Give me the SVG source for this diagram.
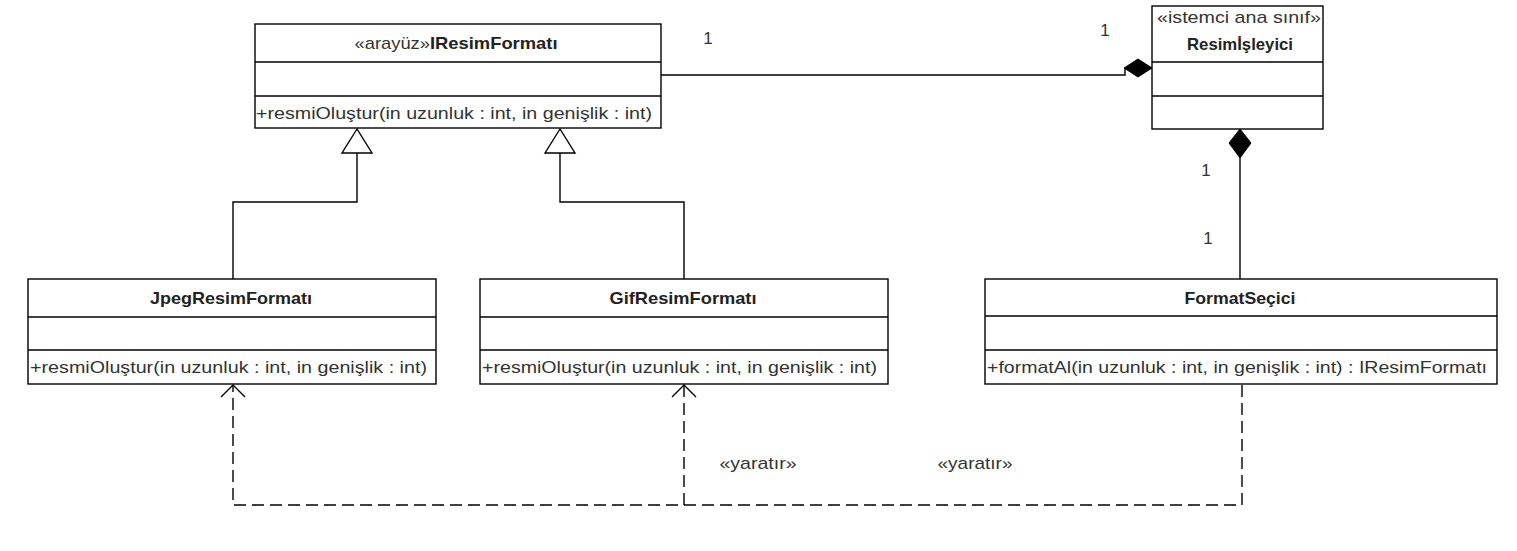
<svg xmlns="http://www.w3.org/2000/svg" width="1517" height="551" viewBox="0 0 1517 551">
<style>
  .box { fill: #ffffff; stroke: #000000; stroke-width: 1.4; }
  .sep { stroke: #000000; stroke-width: 1.4; }
  .t { font-family: "Liberation Sans", Arial, sans-serif; font-size: 17px; fill: #333333; }
  .b { font-weight: bold; fill: #222222; }
  .ln { fill: none; stroke: #000000; stroke-width: 1.4; }
  .dash { fill: none; stroke: #000000; stroke-width: 1.4; stroke-dasharray: 12 6; }
  .tri { fill: #ffffff; stroke: #000000; stroke-width: 1.4; }
  .dia { fill: #000000; stroke: #000000; stroke-width: 1; }
</style>
<rect x="0" y="0" width="1517" height="551" fill="#ffffff"/>

<g id="connectors">
  <!-- generalization Jpeg -> IResimFormati -->
  <polyline class="ln" points="233,279 233,202 357,202 357,153"/>
  <polygon class="tri" points="357,129 342,153 372,153"/>
  <!-- generalization Gif -> IResimFormati -->
  <polyline class="ln" points="684,279 684,202 560,202 560,153"/>
  <polygon class="tri" points="560,129 545,153 575,153"/>
  <!-- composition IResimFormati - ResimIsleyici -->
  <polyline class="ln" points="661,75 1125,75 1125,68"/>
  <polygon class="dia" points="1124,68 1138,59 1152,68 1138,77"/>
  <!-- composition ResimIsleyici - FormatSecici -->
  <line class="ln" x1="1240" y1="158" x2="1240" y2="279"/>
  <polygon class="dia" points="1240,129 1251,143 1240,158 1229,143"/>
  <!-- dependencies (yaratir) -->
  <path class="dash" d="M1242,385 V505 H233 V386"/>
  <path class="dash" d="M684,505 V386"/>
  <polyline class="ln" points="221,397 233,385 245,397"/>
  <polyline class="ln" points="672,397 684,385 696,397"/>
  <!-- labels -->
  <text class="t" x="708" y="44" text-anchor="middle">1</text>
  <text class="t" x="1105" y="36" text-anchor="middle">1</text>
  <text class="t" x="1206" y="176" text-anchor="middle">1</text>
  <text class="t" x="1208" y="244" text-anchor="middle">1</text>
  <text class="t" x="758" y="469" text-anchor="middle" textLength="77" lengthAdjust="spacingAndGlyphs">«yaratır»</text>
  <text class="t" x="975" y="469" text-anchor="middle" textLength="75" lengthAdjust="spacingAndGlyphs">«yaratır»</text>
</g>

<g id="IResimFormati">
  <rect class="box" x="255" y="24" width="406" height="104"/>
  <line class="sep" x1="255" y1="62" x2="661" y2="62"/>
  <line class="sep" x1="255" y1="96" x2="661" y2="96"/>
  <text class="t" x="456" y="49" text-anchor="middle" textLength="203" lengthAdjust="spacingAndGlyphs">«arayüz»<tspan class="b">IResimFormatı</tspan></text>
  <text class="t" x="256" y="119" textLength="396" lengthAdjust="spacingAndGlyphs">+resmiOluştur(in uzunluk : int, in genişlik : int)</text>
</g>

<g id="ResimIsleyici">
  <rect class="box" x="1152" y="6" width="171" height="123"/>
  <line class="sep" x1="1152" y1="62" x2="1323" y2="62"/>
  <line class="sep" x1="1152" y1="96" x2="1323" y2="96"/>
  <text class="t" x="1239" y="23" text-anchor="middle" textLength="164" lengthAdjust="spacingAndGlyphs">«istemci ana sınıf»</text>
  <text class="t b" x="1240" y="50" text-anchor="middle" textLength="106" lengthAdjust="spacingAndGlyphs">Resimİşleyici</text>
</g>

<g id="JpegResimFormati">
  <rect class="box" x="28" y="279" width="408" height="105"/>
  <line class="sep" x1="28" y1="317" x2="436" y2="317"/>
  <line class="sep" x1="28" y1="350" x2="436" y2="350"/>
  <text class="t b" x="231" y="304" text-anchor="middle" textLength="162" lengthAdjust="spacingAndGlyphs">JpegResimFormatı</text>
  <text class="t" x="30" y="373" textLength="397" lengthAdjust="spacingAndGlyphs">+resmiOluştur(in uzunluk : int, in genişlik : int)</text>
</g>

<g id="GifResimFormati">
  <rect class="box" x="480" y="279" width="408" height="105"/>
  <line class="sep" x1="480" y1="317" x2="888" y2="317"/>
  <line class="sep" x1="480" y1="350" x2="888" y2="350"/>
  <text class="t b" x="683" y="304" text-anchor="middle" textLength="147" lengthAdjust="spacingAndGlyphs">GifResimFormatı</text>
  <text class="t" x="482" y="373" textLength="395" lengthAdjust="spacingAndGlyphs">+resmiOluştur(in uzunluk : int, in genişlik : int)</text>
</g>

<g id="FormatSecici">
  <rect class="box" x="985" y="279" width="512" height="105"/>
  <line class="sep" x1="985" y1="316" x2="1497" y2="316"/>
  <line class="sep" x1="985" y1="350" x2="1497" y2="350"/>
  <text class="t b" x="1240" y="304" text-anchor="middle" textLength="111" lengthAdjust="spacingAndGlyphs">FormatSeçici</text>
  <text class="t" x="987" y="373" textLength="500" lengthAdjust="spacingAndGlyphs">+formatAl(in uzunluk : int, in genişlik : int) : IResimFormatı</text>
</g>
</svg>
